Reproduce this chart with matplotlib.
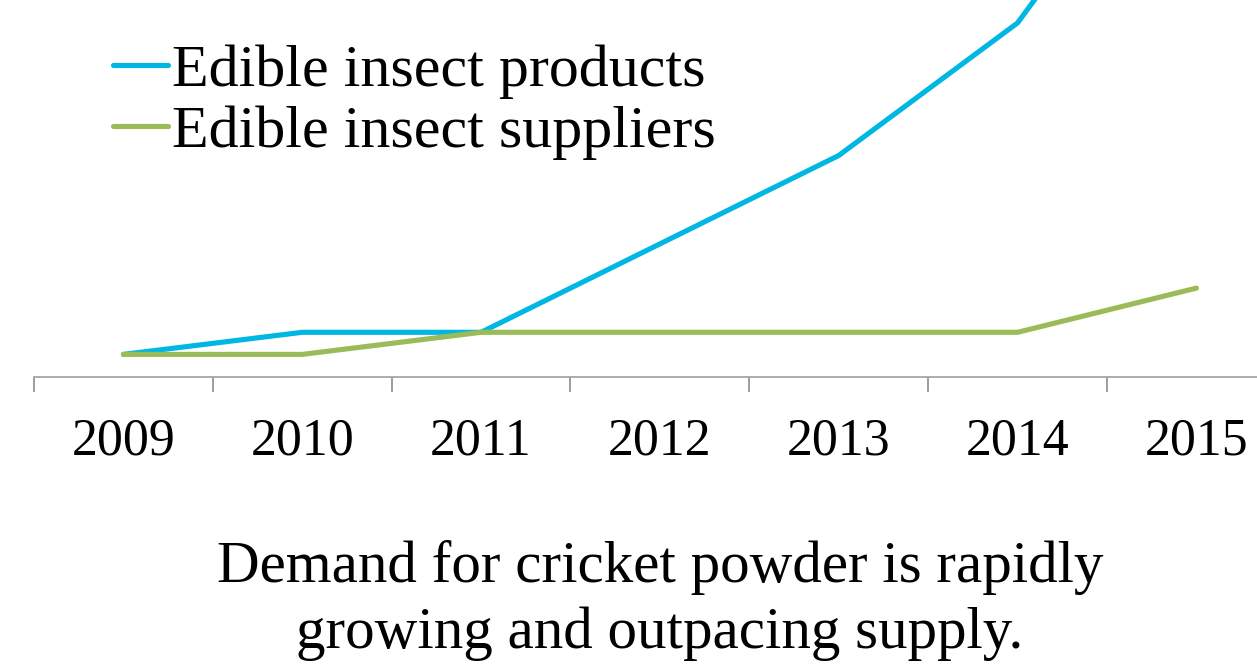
import matplotlib
matplotlib.use("Agg")
import matplotlib.pyplot as plt
from matplotlib.ticker import FixedLocator

years = ["2009", "2010", "2011", "2012", "2013", "2014", "2015"]
products = [1, 2, 2, 6, 10, 16, 27]
suppliers = [1, 1, 2, 2, 2, 2, 4]
series_names = ["Edible insect products", "Edible insect suppliers"]
caption_lines = ["Demand for cricket powder is rapidly",
                 "growing and outpacing supply."]

W, H = 1257, 664
fig = plt.figure(figsize=(W / 100, H / 100), dpi=100)
plt.rcParams['font.family'] = ['Liberation Serif', 'DejaVu Serif']

zero_px = 376.5
px_per_unit = 22.1
ax_top_px = -300
ax = fig.add_axes([34 / W, (H - zero_px) / H, (7 * 178.83) / W, (zero_px - ax_top_px) / H])
x = list(range(len(years)))
ax.plot(x, products, color='#00B7E3', lw=3.7, solid_capstyle='round',
        solid_joinstyle='miter', label=series_names[0])
ax.plot(x, suppliers, color='#9BBB59', lw=3.7, solid_capstyle='round',
        solid_joinstyle='miter', label=series_names[1])
ax.set_xlim(-0.5, 6.5)
ax.set_ylim(0, (zero_px - ax_top_px) / px_per_unit)

for s in ['top', 'left', 'right']:
    ax.spines[s].set_visible(False)
ax.spines['bottom'].set_color('#A6A6A6')
ax.spines['bottom'].set_linewidth(1.3)
ax.set_yticks([])

ax.xaxis.set_major_locator(FixedLocator(x))
ax.set_xticklabels(years, fontsize=37.4)
ax.tick_params(axis='x', which='major', length=0, pad=29.5)
ax.xaxis.set_minor_locator(FixedLocator([i - 0.5 for i in range(len(years) + 1)]))
ax.tick_params(axis='x', which='minor', length=10.8, width=1.2, color='#8C8C8C')

leg = fig.legend(loc='upper left', bbox_to_anchor=(113 / W, (H - 44) / H),
                 frameon=False, fontsize=43.2, handlelength=0.92,
                 handletextpad=0.07, labelspacing=0.1, borderpad=0,
                 borderaxespad=0)
for h in leg.get_lines():
    h.set_solid_capstyle('round')

fig.text(660 / W, (H - 582) / H, caption_lines[0], ha='center', va='baseline',
         fontsize=42.5)
fig.text(660 / W, (H - 648) / H, caption_lines[1], ha='center', va='baseline',
         fontsize=42.5)

fig.savefig("out.png", dpi=100)
